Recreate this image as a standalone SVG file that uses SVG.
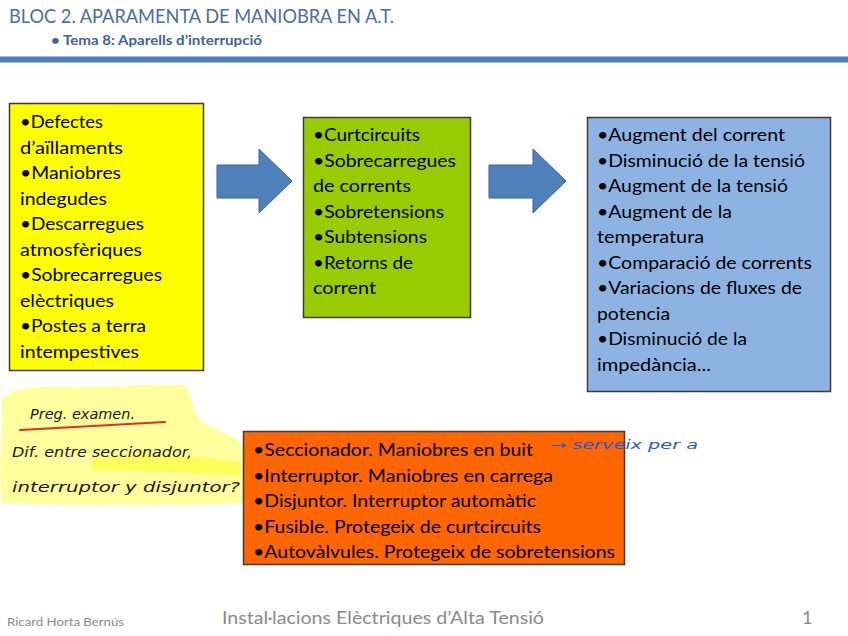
<svg xmlns="http://www.w3.org/2000/svg" width="848" height="636" viewBox="0 0 848 636">
<style>
.t{font-family:Lato,"Open Sans","Liberation Sans",sans-serif;font-size:18px;fill:#000}
.box{stroke:#3c3c3c;stroke-width:1.5}
.arrow{fill:#4f81bd;stroke:#3a6395;stroke-width:1}
.hw{font-family:"DejaVu Sans","Liberation Sans",sans-serif;font-style:italic;font-size:14px;fill:#1a1a1a}
.ft{font-family:Lato,"Open Sans","Liberation Sans",sans-serif;fill:#8a8a8a}
</style>
<rect width="848" height="636" fill="#fff"/>
<g id="header">
<text x="9" y="23" font-family="Lato,'Open Sans','Liberation Sans',sans-serif" font-size="20" fill="#4a6da5" textLength="385" lengthAdjust="spacingAndGlyphs">BLOC 2. APARAMENTA DE MANIOBRA EN A.T.</text>
<text x="51" y="45" font-family="Lato,'Open Sans','Liberation Sans',sans-serif" font-size="14" font-weight="bold" fill="#3d629c" textLength="211" lengthAdjust="spacingAndGlyphs">• Tema 8: Aparells d’interrupció</text>
<rect x="0" y="57" width="848" height="5" fill="#4f81bd"/>
<rect x="0" y="56" width="848" height="1" fill="#a9c0e0"/>
<rect x="0" y="62" width="848" height="1" fill="#a9c0e0"/>
</g>
<g id="connectors">
<polygon class="arrow" points="217,165 259,165 259,149 292,181 259,213 259,198 217,198"/>
<polygon class="arrow" points="489,165 533,165 533,149 566,181 533,213 533,198 489,198"/>
</g>
<g id="causes">
<rect class="box" x="9.5" y="103.5" width="194" height="267" fill="#ffff00"/>
<text class="t" x="20" y="128" textLength="83" lengthAdjust="spacingAndGlyphs">•Defectes</text>
<text class="t" x="20" y="153.5" textLength="103" lengthAdjust="spacingAndGlyphs">d’aïllaments</text>
<text class="t" x="20" y="179" textLength="101" lengthAdjust="spacingAndGlyphs">•Maniobres</text>
<text class="t" x="20" y="204.5" textLength="87" lengthAdjust="spacingAndGlyphs">indegudes</text>
<text class="t" x="20" y="230" textLength="124" lengthAdjust="spacingAndGlyphs">•Descarregues</text>
<text class="t" x="20" y="255.5" textLength="122" lengthAdjust="spacingAndGlyphs">atmosfèriques</text>
<text class="t" x="20" y="281" textLength="142" lengthAdjust="spacingAndGlyphs">•Sobrecarregues</text>
<text class="t" x="20" y="306.5" textLength="94" lengthAdjust="spacingAndGlyphs">elèctriques</text>
<text class="t" x="20" y="332" textLength="126" lengthAdjust="spacingAndGlyphs">•Postes a terra</text>
<text class="t" x="20" y="357.5" textLength="119" lengthAdjust="spacingAndGlyphs">intempestives</text>
</g>
<g id="faults">
<rect class="box" x="303.5" y="117.5" width="167" height="200" fill="#99cc00"/>
<text class="t" x="313" y="141" textLength="107" lengthAdjust="spacingAndGlyphs">•Curtcircuits</text>
<text class="t" x="313" y="166.5" textLength="143" lengthAdjust="spacingAndGlyphs">•Sobrecarregues</text>
<text class="t" x="313" y="192" textLength="98" lengthAdjust="spacingAndGlyphs">de corrents</text>
<text class="t" x="313" y="217.5" textLength="131" lengthAdjust="spacingAndGlyphs">•Sobretensions</text>
<text class="t" x="313" y="243" textLength="114" lengthAdjust="spacingAndGlyphs">•Subtensions</text>
<text class="t" x="313" y="268.5" textLength="100" lengthAdjust="spacingAndGlyphs">•Retorns de</text>
<text class="t" x="313" y="294" textLength="63" lengthAdjust="spacingAndGlyphs">corrent</text>
</g>
<g id="detection">
<rect class="box" x="587.5" y="117.5" width="243" height="274" fill="#8db3e2"/>
<text class="t" x="597" y="141" textLength="188" lengthAdjust="spacingAndGlyphs">•Augment del corrent</text>
<text class="t" x="597" y="166.5" textLength="208" lengthAdjust="spacingAndGlyphs">•Disminució de la tensió</text>
<text class="t" x="597" y="192" textLength="191" lengthAdjust="spacingAndGlyphs">•Augment de la tensió</text>
<text class="t" x="597" y="217.5" textLength="135" lengthAdjust="spacingAndGlyphs">•Augment de la</text>
<text class="t" x="597" y="243" textLength="107" lengthAdjust="spacingAndGlyphs">temperatura</text>
<text class="t" x="597" y="268.5" textLength="215" lengthAdjust="spacingAndGlyphs">•Comparació de corrents</text>
<text class="t" x="597" y="294" textLength="205" lengthAdjust="spacingAndGlyphs">•Variacions de fluxes de</text>
<text class="t" x="597" y="319.5" textLength="73" lengthAdjust="spacingAndGlyphs">potencia</text>
<text class="t" x="597" y="345" textLength="150" lengthAdjust="spacingAndGlyphs">•Disminució de la</text>
<text class="t" x="597" y="370.5" textLength="114" lengthAdjust="spacingAndGlyphs">impedància...</text>
</g>
<g id="notes">
<path d="M2,400 C10,390 30,386 60,387 C100,388 140,384 185,385 C192,392 190,405 200,420 C210,428 225,432 238,440 L246,455 L246,503 C180,506 80,506 2,503 C-2,470 3,430 2,400 Z" fill="#ffff8c" opacity="0.85"/>
<path d="M92,458 C130,452 190,455 240,462 L240,476 C190,472 130,470 92,470 Z" fill="#ffff3c" opacity="0.7"/>
<path d="M20,430 C60,428 110,425 165,422" fill="none" stroke="#e0301e" stroke-width="2" stroke-linecap="round"/>
<text class="hw" x="30" y="419" textLength="105" lengthAdjust="spacingAndGlyphs">Preg. examen.</text>
<text class="hw" x="12" y="457" textLength="180" lengthAdjust="spacingAndGlyphs">Dif. entre seccionador,</text>
<text class="hw" x="12" y="492" textLength="228" lengthAdjust="spacingAndGlyphs">interruptor y disjuntor?</text>
</g>
<g id="devices">
<rect class="box" x="243.5" y="431.5" width="381" height="133" fill="#ff6600"/>
<text class="t" x="253" y="456" textLength="280" lengthAdjust="spacingAndGlyphs">•Seccionador. Maniobres en buit</text>
<text class="t" x="253" y="481.5" textLength="300" lengthAdjust="spacingAndGlyphs">•Interruptor. Maniobres en carrega</text>
<text class="t" x="253" y="507" textLength="283" lengthAdjust="spacingAndGlyphs">•Disjuntor. Interruptor automàtic</text>
<text class="t" x="253" y="532.5" textLength="288" lengthAdjust="spacingAndGlyphs">•Fusible. Protegeix de curtcircuits</text>
<text class="t" x="253" y="558" textLength="362" lengthAdjust="spacingAndGlyphs">•Autovàlvules. Protegeix de sobretensions</text>
</g>
<g id="annotation">
<text x="550" y="449" font-family="'DejaVu Sans',sans-serif" font-style="italic" font-size="12" fill="#2a56d6" textLength="148" lengthAdjust="spacingAndGlyphs">→ serveix per a</text>
</g>
<g id="footer">
<text class="ft" x="7" y="626" font-size="12" textLength="117" lengthAdjust="spacingAndGlyphs">Ricard Horta Bernús</text>
<text class="ft" x="222" y="624" font-size="18" textLength="322" lengthAdjust="spacingAndGlyphs">Instal·lacions Elèctriques d’Alta Tensió</text>
<text class="ft" x="802" y="624" font-size="18">1</text>
</g>
</svg>
